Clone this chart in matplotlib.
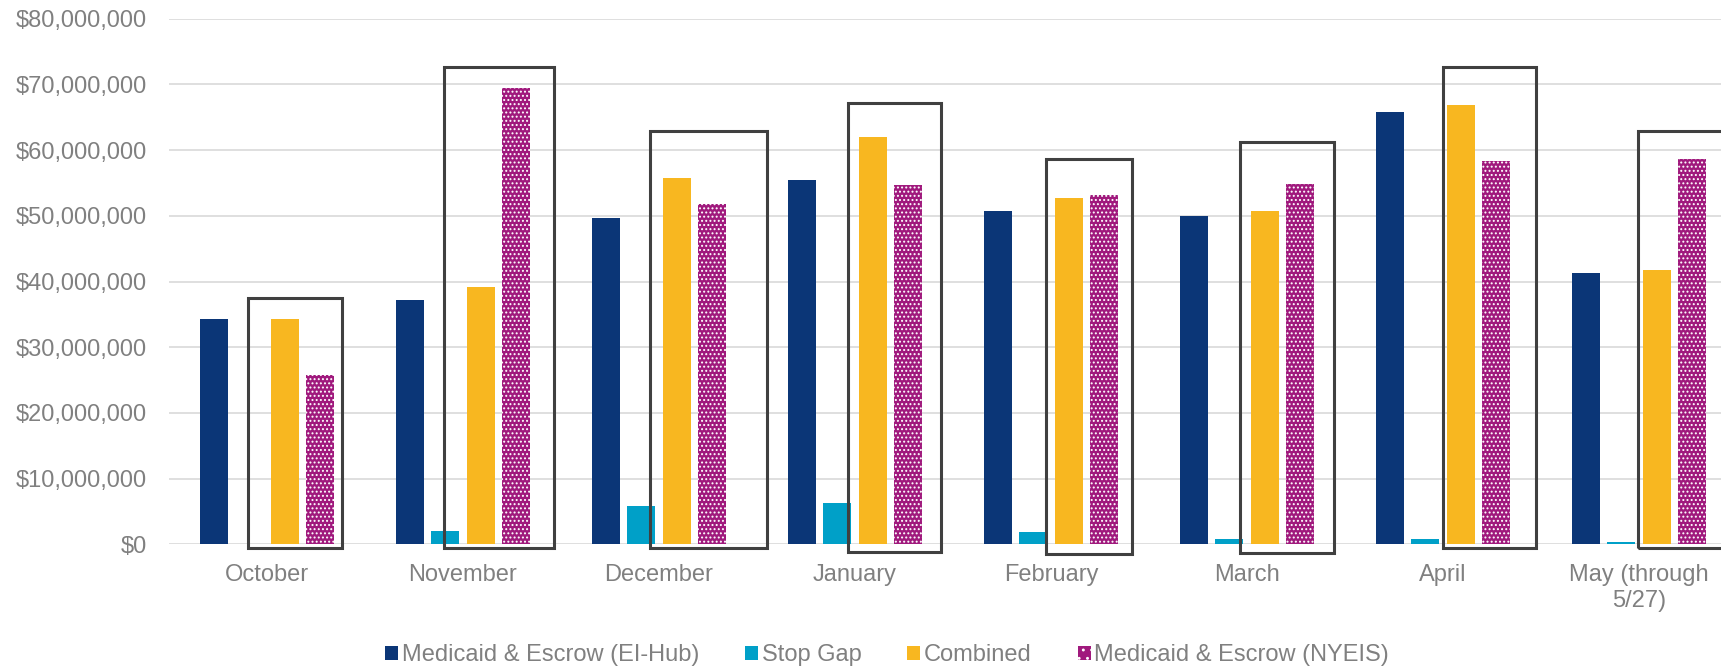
import matplotlib.pyplot as plt
from matplotlib.patches import Rectangle, Patch
from matplotlib.ticker import FuncFormatter
import numpy as np

plt.rcParams['font.family'] = ['Liberation Sans', 'DejaVu Sans']
plt.rcParams['hatch.linewidth'] = 0.9

months = ["October", "November", "December", "January", "February",
          "March", "April", "May (through\n5/27)"]

# monthly totals, millions of dollars
ei_hub = [34.25, 37.2, 49.6, 55.45, 50.8, 49.9, 65.8, 41.25]
stop_gap = [0.0, 2.0, 5.9, 6.35, 1.85, 0.75, 0.8, 0.3]
combined = [34.25, 39.2, 55.7, 62.05, 52.7, 50.8, 66.8, 41.75]
nyeis = [25.8, 69.4, 51.8, 54.7, 53.2, 54.9, 58.4, 58.6]

series_names = ["Medicaid & Escrow (EI-Hub)", "Stop Gap", "Combined",
                "Medicaid & Escrow (NYEIS)"]

# outline around Combined vs NYEIS for each month:
# (left offset, right offset) in category units, (top, bottom) in millions
box_x = [(-0.097, 0.383), (-0.095, 0.466), (-0.044, 0.553), (-0.037, 0.441),
         (-0.023, 0.412), (-0.034, 0.444), (0.0, 0.477), (-0.003, 0.48)]
box_y = [(37.5, -0.6), (72.6, -0.5), (62.95, -0.5), (67.1, -1.2),
         (58.6, -1.5), (61.2, -1.4), (72.6, -0.5), (62.95, -0.5)]

colors = ['#0b3677', '#00a0c8', '#f8b720', '#a0197d']
grey = '#808080'

fig = plt.figure(figsize=(17.21, 6.67), dpi=100)
ax = fig.add_axes([169 / 1721, 1 - 544.3 / 667, 1568 / 1721, (544.3 - 18.7) / 667])

x = np.arange(len(months))
slot = 0.181
width = 0.143
all_series = [ei_hub, stop_gap, combined, nyeis]
for i, vals in enumerate(all_series):
    vals = np.array(vals) * 1e6
    pos = x + (i - 1.5) * slot
    if i == 3:
        ax.bar(pos, vals, width, color=colors[i], edgecolor='white',
               linewidth=0, hatch='....', zorder=3)
    else:
        ax.bar(pos, vals, width, color=colors[i], linewidth=0, zorder=3)

for c, (l, r), (t, b) in zip(x, box_x, box_y):
    ax.add_patch(Rectangle((c + l, b * 1e6), r - l, (t - b) * 1e6, fill=False,
                           edgecolor='#404040', linewidth=2.2, zorder=4,
                           clip_on=False))

ax.set_xlim(-0.5, len(months) - 0.5)
ax.set_ylim(0, 80e6)
ax.set_yticks(np.arange(0, 80e6 + 1, 10e6))
ax.yaxis.set_major_formatter(FuncFormatter(lambda v, p: "${:,.0f}".format(v)))
ax.set_xticks(x)
ax.set_xticklabels(months)
ax.grid(axis='y', color='#d9d9d9', linewidth=1.2, zorder=0)
ax.set_axisbelow(True)
for s in ax.spines.values():
    s.set_visible(False)
ax.tick_params(axis='y', length=0, pad=15.8, labelsize=17, labelcolor=grey)
ax.tick_params(axis='x', length=0, pad=14.5, labelsize=17, labelcolor=grey)

handles = [Patch(facecolor=colors[0]), Patch(facecolor=colors[1]),
           Patch(facecolor=colors[2]),
           Patch(facecolor=colors[3], edgecolor='white', linewidth=0, hatch='..')]
leg = fig.legend(handles, series_names, loc='center', ncol=4,
                 bbox_to_anchor=(0.5154, 1 - 655 / 667), frameon=False,
                 fontsize=17, handlelength=0.55, handleheight=0.55,
                 handletextpad=0.15, columnspacing=1.95)
for t in leg.get_texts():
    t.set_color(grey)

fig.savefig("out.png", dpi=100)
